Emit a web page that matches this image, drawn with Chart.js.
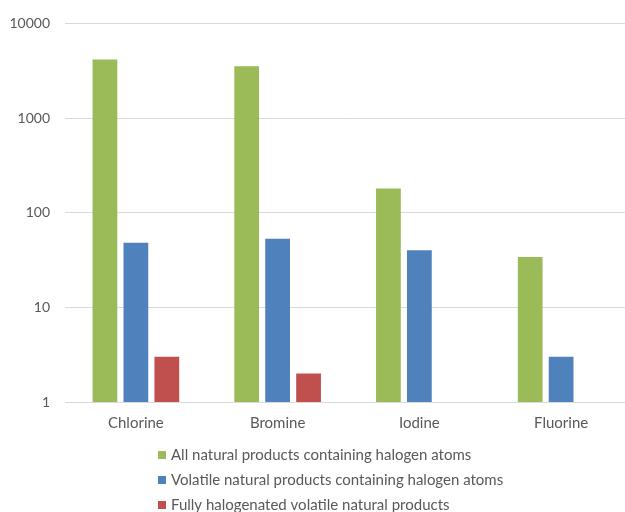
<!DOCTYPE html>
<html>
<head>
<meta charset="utf-8">
<script src="https://cdn.jsdelivr.net/npm/chart.js@4"></script>
<style>
  html, body { margin: 0; padding: 0; background: #fff; overflow: hidden; }
  #wrap { width: 640px; height: 512px; }
</style>
</head>
<body>
<div id="wrap"><canvas id="chart" width="640" height="512"></canvas></div>
<script>
// ---- data ----
const categories = ['Chlorine', 'Bromine', 'Iodine', 'Fluorine'];
const allProducts = [4150, 3520, 180, 34];
const volatileProducts = [48, 53, 40, 3];
const fullyHalogenated = [3, 2, null, null];
const yTicks = [1, 10, 100, 1000, 10000];

const seriesLabels = [
  'All natural products containing halogen atoms',
  'Volatile natural products containing halogen atoms',
  'Fully halogenated volatile natural products'
];
const colors = ['#9BBB59', '#4F81BD', '#C0504D'];

const FONT = 'Lato, "Liberation Sans", sans-serif';
const TEXT = '#595959';

// legend drawn as a vertical list under the axis
const listLegend = {
  id: 'listLegend',
  afterDraw(chart) {
    const ctx = chart.ctx;
    ctx.save();
    ctx.font = '15px ' + FONT;
    ctx.textBaseline = 'middle';
    ctx.textAlign = 'left';
    chart.data.datasets.forEach((ds, i) => {
      const y = 455 + i * 25;
      ctx.fillStyle = ds.backgroundColor;
      ctx.fillRect(158, y - 4, 8, 8);
      ctx.fillStyle = TEXT;
      ctx.fillText(ds.label, 171, y);
    });
    ctx.restore();
  }
};

new Chart(document.getElementById('chart'), {
  type: 'bar',
  data: {
    labels: categories,
    datasets: [allProducts, volatileProducts, fullyHalogenated].map((d, i) => ({
      label: seriesLabels[i],
      data: d,
      backgroundColor: colors[i],
      categoryPercentage: 0.655,
      barPercentage: 0.8
    }))
  },
  options: {
    responsive: false,
    animation: false,
    layout: { padding: { top: 21, right: 8, left: 0, bottom: 0 } },
    plugins: {
      legend: { display: false },
      tooltip: { enabled: false }
    },
    scales: {
      x: {
        grid: { display: false, drawTicks: false },
        border: { color: '#D9D9D9' },
        ticks: { color: TEXT, font: { family: FONT, size: 15 }, padding: 12 },
        afterFit: s => { s.height = 110; }
      },
      y: {
        type: 'logarithmic',
        min: 1,
        max: 10000,
        afterBuildTicks: s => { s.ticks = yTicks.map(v => ({ value: v })); },
        grid: { color: '#D9D9D9', drawTicks: false },
        border: { display: false },
        ticks: {
          color: TEXT,
          font: { family: FONT, size: 14 },
          padding: 15,
          callback: v => String(v)
        },
        afterFit: s => { s.width = 65; }
      }
    }
  },
  plugins: [listLegend]
});
</script>
</body>
</html>
